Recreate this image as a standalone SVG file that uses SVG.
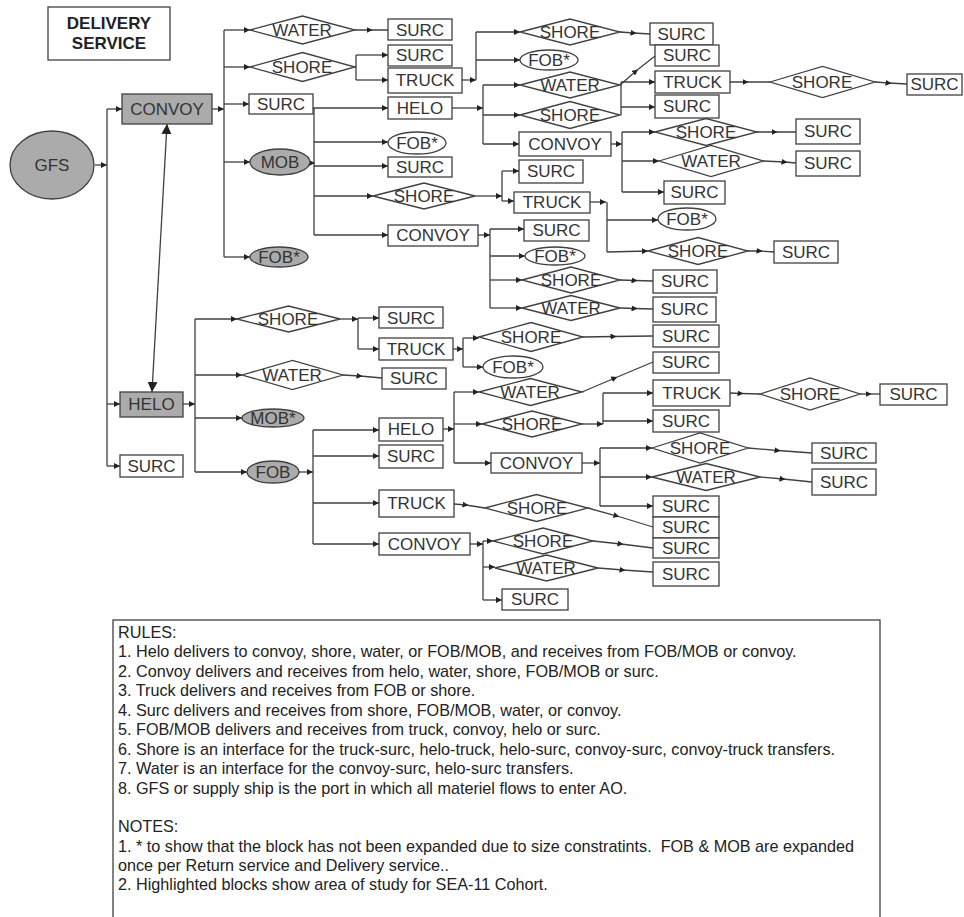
<svg xmlns="http://www.w3.org/2000/svg" width="964" height="917" viewBox="0 0 964 917">
<style>
.n{fill:#fff;stroke:#404040;stroke-width:1.3}
.g{fill:#ababab;stroke:#404040;stroke-width:1.3}
.t{font-family:"Liberation Sans",Arial,sans-serif;font-size:17px;fill:#333;text-anchor:middle}
.b{font-weight:bold;fill:#222}
.c path{fill:none;stroke:#404040;stroke-width:1.3}
.r{font-family:"Liberation Sans",Arial,sans-serif;font-size:16.2px;fill:#222;white-space:pre}
</style>
<defs>
<marker id="a" markerUnits="userSpaceOnUse" markerWidth="6" markerHeight="6" refX="6" refY="3" orient="auto"><path d="M0,0 L6,3 L0,6 z" fill="#222"/></marker>
<marker id="m" markerUnits="userSpaceOnUse" markerWidth="6" markerHeight="6" refX="3.5" refY="3" orient="auto"><path d="M0,0 L6,3 L0,6 z" fill="#222"/></marker>
<marker id="d" markerUnits="userSpaceOnUse" markerWidth="10" markerHeight="10" refX="10" refY="5" orient="auto-start-reverse"><path d="M0,0 L10,5 L0,10 z" fill="#222"/></marker>
</defs>

<g id="connectors" class="c">
<path d="M95,165 H107" marker-end="url(#a)"/>
<path d="M107,109 V466"/>
<path d="M107,109 H122" marker-end="url(#a)"/>
<path d="M107,404 H120" marker-end="url(#a)"/>
<path d="M107,466 H120" marker-end="url(#a)"/>
<path d="M167,124 L152,392" marker-start="url(#d)" marker-end="url(#d)"/>
<path d="M212,109 H224" marker-end="url(#a)"/>
<path d="M224,30 V257"/>
<path d="M224,30 H250" marker-end="url(#a)"/>
<path d="M224,67 H250" marker-end="url(#a)"/>
<path d="M224,104 H249" marker-end="url(#a)"/>
<path d="M224,162 H250" marker-end="url(#a)"/>
<path d="M224,257 H250" marker-end="url(#a)"/>
<path d="M355,30 H370 H388" marker-mid="url(#m)"/>
<path d="M355,67 H356 M356,55 V80"/>
<path d="M356,55 H388" marker-end="url(#a)"/>
<path d="M356,80 H388" marker-end="url(#a)"/>
<path d="M313,108 H388" marker-end="url(#a)"/>
<path d="M310,163 H315" marker-end="url(#a)"/>
<path d="M314,108 V235"/>
<path d="M314,142 H388" marker-end="url(#a)"/>
<path d="M314,166 H388" marker-end="url(#a)"/>
<path d="M314,196 H373" marker-end="url(#a)"/>
<path d="M314,235 H388" marker-end="url(#a)"/>
<path d="M462,80 H476" marker-end="url(#a)"/>
<path d="M476,32 V80"/>
<path d="M476,32 H520" marker-end="url(#a)"/>
<path d="M476,60 H520" marker-end="url(#a)"/>
<path d="M452,108 H483" marker-end="url(#a)"/>
<path d="M483,85 V144"/>
<path d="M483,85 H520" marker-end="url(#a)"/>
<path d="M483,115 H520" marker-end="url(#a)"/>
<path d="M483,144 H519" marker-end="url(#a)"/>
<path d="M620,32 L634,33 L650,34" marker-mid="url(#m)"/>
<path d="M621,82 V115"/>
<path d="M621,82 H655" marker-end="url(#a)"/>
<path d="M621,107 H655" marker-end="url(#a)"/>
<path d="M620,85 L636,71 L655,56" marker-mid="url(#m)"/>
<path d="M730,82 H746 H770" marker-mid="url(#m)"/>
<path d="M875,82 L889,83 L907,84" marker-mid="url(#m)"/>
<path d="M611,144 H622" marker-end="url(#a)"/>
<path d="M622,132 V192"/>
<path d="M622,132 H655" marker-end="url(#a)"/>
<path d="M622,161 H659" marker-end="url(#a)"/>
<path d="M622,192 H664" marker-end="url(#a)"/>
<path d="M757,132 H775 H796" marker-mid="url(#m)"/>
<path d="M763,161 L785,162 L796,163" marker-mid="url(#m)"/>
<path d="M475,196 H502" marker-end="url(#a)"/>
<path d="M502,171 V201"/>
<path d="M502,171 H519" marker-end="url(#a)"/>
<path d="M502,201 H514" marker-end="url(#a)"/>
<path d="M590,202 H606" marker-end="url(#a)"/>
<path d="M607,202 V252"/>
<path d="M607,220 H658" marker-end="url(#a)"/>
<path d="M607,252 L648,251" marker-end="url(#a)"/>
<path d="M748,251 L760,251 L774,252" marker-mid="url(#m)"/>
<path d="M478,235 H490" marker-end="url(#a)"/>
<path d="M490,229 V308"/>
<path d="M490,229 H524" marker-end="url(#a)"/>
<path d="M490,256 H525" marker-end="url(#a)"/>
<path d="M490,280 H522" marker-end="url(#a)"/>
<path d="M490,308 H522" marker-end="url(#a)"/>
<path d="M620,280 L635,280.5 L653,281" marker-mid="url(#m)"/>
<path d="M620,308 L635,308.5 L653,309" marker-mid="url(#m)"/>
<path d="M183,404 H195" marker-end="url(#a)"/>
<path d="M195,319 V472"/>
<path d="M195,319 H237" marker-end="url(#a)"/>
<path d="M195,375 H242" marker-end="url(#a)"/>
<path d="M195,418 H242" marker-end="url(#a)"/>
<path d="M195,472 H247" marker-end="url(#a)"/>
<path d="M340,319 H358" marker-end="url(#a)"/>
<path d="M358,318 V349"/>
<path d="M358,318 H379" marker-end="url(#a)"/>
<path d="M358,349 H379" marker-end="url(#a)"/>
<path d="M453,349 H463" marker-end="url(#a)"/>
<path d="M463,338 V367"/>
<path d="M463,338 H479" marker-end="url(#a)"/>
<path d="M463,367 H483" marker-end="url(#a)"/>
<path d="M583,337 L614,336.5 L653,336" marker-mid="url(#m)"/>
<path d="M343,375 L360,376 L382,378" marker-mid="url(#m)"/>
<path d="M299,472 H313" marker-end="url(#a)"/>
<path d="M313,430 V544"/>
<path d="M313,430 H379" marker-end="url(#a)"/>
<path d="M313,456 H379" marker-end="url(#a)"/>
<path d="M313,503 H379" marker-end="url(#a)"/>
<path d="M313,544 H379" marker-end="url(#a)"/>
<path d="M443,429 H454" marker-end="url(#a)"/>
<path d="M454,392 V463"/>
<path d="M454,392 H479" marker-end="url(#a)"/>
<path d="M454,424 H482" marker-end="url(#a)"/>
<path d="M454,463 H491" marker-end="url(#a)"/>
<path d="M582,392 L615,378 L653,362" marker-mid="url(#m)"/>
<path d="M582,424 H603" marker-end="url(#a)"/>
<path d="M603,393 V424"/>
<path d="M603,393 H653" marker-end="url(#a)"/>
<path d="M603,421 H653" marker-end="url(#a)"/>
<path d="M730,393 L741,393.5 L760,394" marker-mid="url(#m)"/>
<path d="M860,394 L869,394 L880,394" marker-mid="url(#m)"/>
<path d="M582,463 H600" marker-end="url(#a)"/>
<path d="M600,448 V506"/>
<path d="M600,448 H652" marker-end="url(#a)"/>
<path d="M600,477 H652" marker-end="url(#a)"/>
<path d="M600,506 H653" marker-end="url(#a)"/>
<path d="M748,448 L778,450.5 L812,453" marker-mid="url(#m)"/>
<path d="M760,477 L783,479 L812,482" marker-mid="url(#m)"/>
<path d="M454,504 L466,505 L485,508" marker-mid="url(#m)"/>
<path d="M588,508 L617,516 L653,527" marker-mid="url(#m)"/>
<path d="M470,544 H483" marker-end="url(#a)"/>
<path d="M483,541 V600"/>
<path d="M483,541 H493" marker-end="url(#a)"/>
<path d="M483,567 H495" marker-end="url(#a)"/>
<path d="M483,600 H502" marker-end="url(#a)"/>
<path d="M593,541 L621,544 L653,548" marker-mid="url(#m)"/>
<path d="M598,568 L623,570 L653,572" marker-mid="url(#m)"/>
</g>

<g id="delivery-service"><rect class="n" x="48" y="7" width="122" height="53"/><text class="t b" x="109" y="29">DELIVERY</text><text class="t b" x="109" y="49">SERVICE</text></g>
<g id="gfs"><ellipse class="g" cx="52" cy="165" rx="42" ry="34"/><text class="t" x="52" y="171">GFS</text></g>
<g id="convoy"><rect class="g" x="122" y="94" width="90" height="30"/><text class="t" x="167" y="115">CONVOY</text></g>
<g id="helo"><rect class="g" x="120" y="392" width="63" height="25"/><text class="t" x="151.5" y="410">HELO</text></g>
<g id="surc-gfs"><rect class="n" x="120" y="455" width="63" height="22"/><text class="t" x="151.5" y="472">SURC</text></g>

<g id="c-water"><polygon class="n" points="250,30 302.5,16 355,30 302.5,44"/><text class="t" x="302" y="36">WATER</text></g>
<g id="c-shore"><polygon class="n" points="250,67 302.5,52.5 355,67 302.5,81.5"/><text class="t" x="302" y="73">SHORE</text></g>
<g id="c-surc"><rect class="n" x="249" y="94" width="64" height="20"/><text class="t" x="281" y="110">SURC</text></g>
<g id="c-mob"><ellipse class="g" cx="280" cy="162" rx="30" ry="13"/><text class="t" x="280" y="168">MOB</text></g>
<g id="c-fob"><ellipse class="g" cx="279" cy="257" rx="29" ry="10"/><text class="t" x="279" y="263">FOB*</text></g>

<g id="cw-surc"><rect class="n" x="388" y="19" width="64" height="21"/><text class="t" x="420" y="36">SURC</text></g>
<g id="cs-surc"><rect class="n" x="388" y="45" width="64" height="21"/><text class="t" x="420" y="61">SURC</text></g>
<g id="cs-truck"><rect class="n" x="388" y="68" width="74" height="25"/><text class="t" x="425" y="86">TRUCK</text></g>
<g id="cm-helo"><rect class="n" x="388" y="97" width="64" height="22"/><text class="t" x="420" y="114">HELO</text></g>
<g id="cm-fob"><ellipse class="n" cx="417" cy="143" rx="29" ry="11"/><text class="t" x="417" y="149">FOB*</text></g>
<g id="cm-surc"><rect class="n" x="388" y="157" width="64" height="20"/><text class="t" x="420" y="173">SURC</text></g>
<g id="cm-shore"><polygon class="n" points="373,196 424,183 475,196 424,209"/><text class="t" x="424" y="202">SHORE</text></g>
<g id="cm-convoy"><rect class="n" x="388" y="225" width="90" height="21"/><text class="t" x="433" y="241">CONVOY</text></g>

<g id="ct-shore"><polygon class="n" points="520,32 570,19 620,32 570,45"/><text class="t" x="570" y="38">SHORE</text></g>
<g id="ct-fob"><ellipse class="n" cx="549" cy="60" rx="29" ry="10"/><text class="t" x="549" y="66">FOB*</text></g>
<g id="ch-water"><polygon class="n" points="520,85 570,72 620,85 570,98"/><text class="t" x="570" y="91">WATER</text></g>
<g id="ch-shore"><polygon class="n" points="520,115 570,101.5 620,115 570,128.5"/><text class="t" x="570" y="121">SHORE</text></g>
<g id="ch-convoy"><rect class="n" x="519" y="132" width="92" height="24"/><text class="t" x="565" y="150">CONVOY</text></g>
<g id="cms-surc"><rect class="n" x="519" y="160" width="64" height="23"/><text class="t" x="551" y="177">SURC</text></g>
<g id="cms-truck"><rect class="n" x="514" y="192" width="76" height="21"/><text class="t" x="552" y="208">TRUCK</text></g>
<g id="cmc-surc"><rect class="n" x="524" y="220" width="65" height="21"/><text class="t" x="556.5" y="236">SURC</text></g>
<g id="cmc-fob"><ellipse class="n" cx="555" cy="256" rx="30" ry="9"/><text class="t" x="555" y="262">FOB*</text></g>
<g id="cmc-shore"><polygon class="n" points="522,280 571,267 620,280 571,293"/><text class="t" x="571" y="286">SHORE</text></g>
<g id="cmc-water"><polygon class="n" points="522,308 571,295.5 620,308 571,320.5"/><text class="t" x="571" y="314">WATER</text></g>

<g id="cts-surc"><rect class="n" x="650" y="23" width="63" height="22"/><text class="t" x="681.5" y="40">SURC</text></g>
<g id="chw-surc"><rect class="n" x="655" y="45" width="64" height="21"/><text class="t" x="687" y="61">SURC</text></g>
<g id="chs-truck"><rect class="n" x="655" y="71" width="75" height="22"/><text class="t" x="692.5" y="88">TRUCK</text></g>
<g id="chs-surc"><rect class="n" x="655" y="95" width="64" height="23"/><text class="t" x="687" y="112">SURC</text></g>
<g id="chc-shore"><polygon class="n" points="655,132 706,118.5 757,132 706,145.5"/><text class="t" x="706" y="138">SHORE</text></g>
<g id="chc-water"><polygon class="n" points="659,161 711,145.5 763,161 711,176.5"/><text class="t" x="711" y="167">WATER</text></g>
<g id="chc-surc"><rect class="n" x="664" y="181" width="61" height="23"/><text class="t" x="694.5" y="198">SURC</text></g>
<g id="cmt-fob"><ellipse class="n" cx="687" cy="219" rx="29" ry="11"/><text class="t" x="687" y="225">FOB*</text></g>
<g id="cmt-shore"><polygon class="n" points="648,251 698,237.5 748,251 698,264.5"/><text class="t" x="698" y="257">SHORE</text></g>
<g id="cmcs-surc"><rect class="n" x="653" y="270" width="64" height="23"/><text class="t" x="685" y="287">SURC</text></g>
<g id="cmcw-surc"><rect class="n" x="653" y="297" width="63" height="25"/><text class="t" x="684.5" y="315">SURC</text></g>
<g id="chst-shore"><polygon class="n" points="770,82 822.5,66.5 875,82 822.5,97.5"/><text class="t" x="822" y="88">SHORE</text></g>
<g id="chcs-surc"><rect class="n" x="796" y="119" width="64" height="25"/><text class="t" x="828" y="137">SURC</text></g>
<g id="chcw-surc"><rect class="n" x="796" y="151" width="64" height="25"/><text class="t" x="828" y="169">SURC</text></g>
<g id="cmts-surc"><rect class="n" x="774" y="241" width="64" height="22"/><text class="t" x="806" y="258">SURC</text></g>
<g id="chsts-surc"><rect class="n" x="907" y="74" width="55" height="21"/><text class="t" x="934.5" y="90">SURC</text></g>

<g id="h-shore"><polygon class="n" points="237,319 288.5,306 340,319 288.5,332"/><text class="t" x="288" y="325">SHORE</text></g>
<g id="h-water"><polygon class="n" points="242,375 292.5,360.5 343,375 292.5,389.5"/><text class="t" x="292" y="381">WATER</text></g>
<g id="h-mob"><ellipse class="g" cx="273" cy="418" rx="31" ry="9"/><text class="t" x="273" y="424">MOB*</text></g>
<g id="h-fob"><ellipse class="g" cx="273" cy="472" rx="26" ry="11"/><text class="t" x="273" y="478">FOB</text></g>
<g id="hs-surc"><rect class="n" x="379" y="307" width="64" height="21"/><text class="t" x="411" y="324">SURC</text></g>
<g id="hs-truck"><rect class="n" x="379" y="338" width="74" height="22"/><text class="t" x="416" y="355">TRUCK</text></g>
<g id="hw-surc"><rect class="n" x="382" y="368" width="64" height="21"/><text class="t" x="414" y="384">SURC</text></g>
<g id="hst-shore"><polygon class="n" points="479,337 531,322.5 583,337 531,351.5"/><text class="t" x="531" y="343">SHORE</text></g>
<g id="hst-fob"><ellipse class="n" cx="513" cy="367" rx="30" ry="11"/><text class="t" x="513" y="373">FOB*</text></g>
<g id="hf-helo"><rect class="n" x="379" y="418" width="64" height="23"/><text class="t" x="411" y="435">HELO</text></g>
<g id="hf-surc"><rect class="n" x="379" y="445" width="64" height="23"/><text class="t" x="411" y="462">SURC</text></g>
<g id="hf-truck"><rect class="n" x="379" y="490" width="75" height="27"/><text class="t" x="416.5" y="509">TRUCK</text></g>
<g id="hf-convoy"><rect class="n" x="379" y="533" width="91" height="22"/><text class="t" x="424.5" y="550">CONVOY</text></g>
<g id="hfh-water"><polygon class="n" points="479,392 530.5,378.5 582,392 530.5,405.5"/><text class="t" x="530" y="398">WATER</text></g>
<g id="hfh-shore"><polygon class="n" points="482,424 532,411 582,424 532,437"/><text class="t" x="532" y="430">SHORE</text></g>
<g id="hfh-convoy"><rect class="n" x="491" y="453" width="91" height="20"/><text class="t" x="536.5" y="469">CONVOY</text></g>
<g id="hft-shore"><polygon class="n" points="485,508 536.5,494.5 588,508 536.5,521.5"/><text class="t" x="537" y="514">SHORE</text></g>
<g id="hfc-shore"><polygon class="n" points="493,541 543,528 593,541 543,554"/><text class="t" x="543" y="547">SHORE</text></g>
<g id="hfc-water"><polygon class="n" points="495,568 546.5,555 598,568 546.5,581"/><text class="t" x="546" y="574">WATER</text></g>
<g id="hfc-surc"><rect class="n" x="502" y="589" width="66" height="21"/><text class="t" x="535" y="605">SURC</text></g>
<g id="hsts-surc"><rect class="n" x="653" y="325" width="66" height="22"/><text class="t" x="686" y="342">SURC</text></g>
<g id="hfhw-surc"><rect class="n" x="653" y="352" width="66" height="21"/><text class="t" x="686" y="368">SURC</text></g>
<g id="hfhs-truck"><rect class="n" x="653" y="380" width="77" height="26"/><text class="t" x="691.5" y="399">TRUCK</text></g>
<g id="hfhs-surc"><rect class="n" x="653" y="410" width="66" height="22"/><text class="t" x="686" y="427">SURC</text></g>
<g id="hfhc-shore"><polygon class="n" points="652,448 700,433 748,448 700,463"/><text class="t" x="700" y="454">SHORE</text></g>
<g id="hfhc-water"><polygon class="n" points="652,477 706,463.5 760,477 706,490.5"/><text class="t" x="706" y="483">WATER</text></g>
<g id="hfhc-surc"><rect class="n" x="653" y="496" width="66" height="21"/><text class="t" x="686" y="512">SURC</text></g>
<g id="hfts-surc"><rect class="n" x="653" y="517" width="66" height="21"/><text class="t" x="686" y="533">SURC</text></g>
<g id="hfcs-surc"><rect class="n" x="653" y="538" width="66" height="20"/><text class="t" x="686" y="554">SURC</text></g>
<g id="hfcw-surc"><rect class="n" x="653" y="562" width="66" height="24"/><text class="t" x="686" y="580">SURC</text></g>
<g id="hfhst-shore"><polygon class="n" points="760,394 810,378 860,394 810,410"/><text class="t" x="810" y="400">SHORE</text></g>
<g id="hfhcs-surc"><rect class="n" x="812" y="443" width="64" height="20"/><text class="t" x="844" y="459">SURC</text></g>
<g id="hfhcw-surc"><rect class="n" x="812" y="469" width="64" height="26"/><text class="t" x="844" y="488">SURC</text></g>
<g id="hfhsts-surc"><rect class="n" x="880" y="384" width="67" height="21"/><text class="t" x="913.5" y="400">SURC</text></g>

<g id="rules">
<rect x="113" y="620" width="767" height="320" fill="#fff" stroke="#404040" stroke-width="1.3"/>
<text class="r" x="118" y="638">RULES:</text>
<text class="r" x="118" y="657">1. Helo delivers to convoy, shore, water, or FOB/MOB, and receives from FOB/MOB or convoy.</text>
<text class="r" x="118" y="677">2. Convoy delivers and receives from helo, water, shore, FOB/MOB or surc.</text>
<text class="r" x="118" y="696">3. Truck delivers and receives from FOB or shore.</text>
<text class="r" x="118" y="716">4. Surc delivers and receives from shore, FOB/MOB, water, or convoy.</text>
<text class="r" x="118" y="735">5. FOB/MOB delivers and receives from truck, convoy, helo or surc.</text>
<text class="r" x="118" y="755">6. Shore is an interface for the truck-surc, helo-truck, helo-surc, convoy-surc, convoy-truck transfers.</text>
<text class="r" x="118" y="774">7. Water is an interface for the convoy-surc, helo-surc transfers.</text>
<text class="r" x="118" y="794">8. GFS or supply ship is the port in which all materiel flows to enter AO.</text>
<text class="r" x="118" y="832">NOTES:</text>
<text class="r" x="118" y="852">1. * to show that the block has not been expanded due to size constratints.  FOB &amp; MOB are expanded</text>
<text class="r" x="118" y="871">once per Return service and Delivery service..</text>
<text class="r" x="118" y="890">2. Highlighted blocks show area of study for SEA-11 Cohort.</text>
</g>
</svg>
